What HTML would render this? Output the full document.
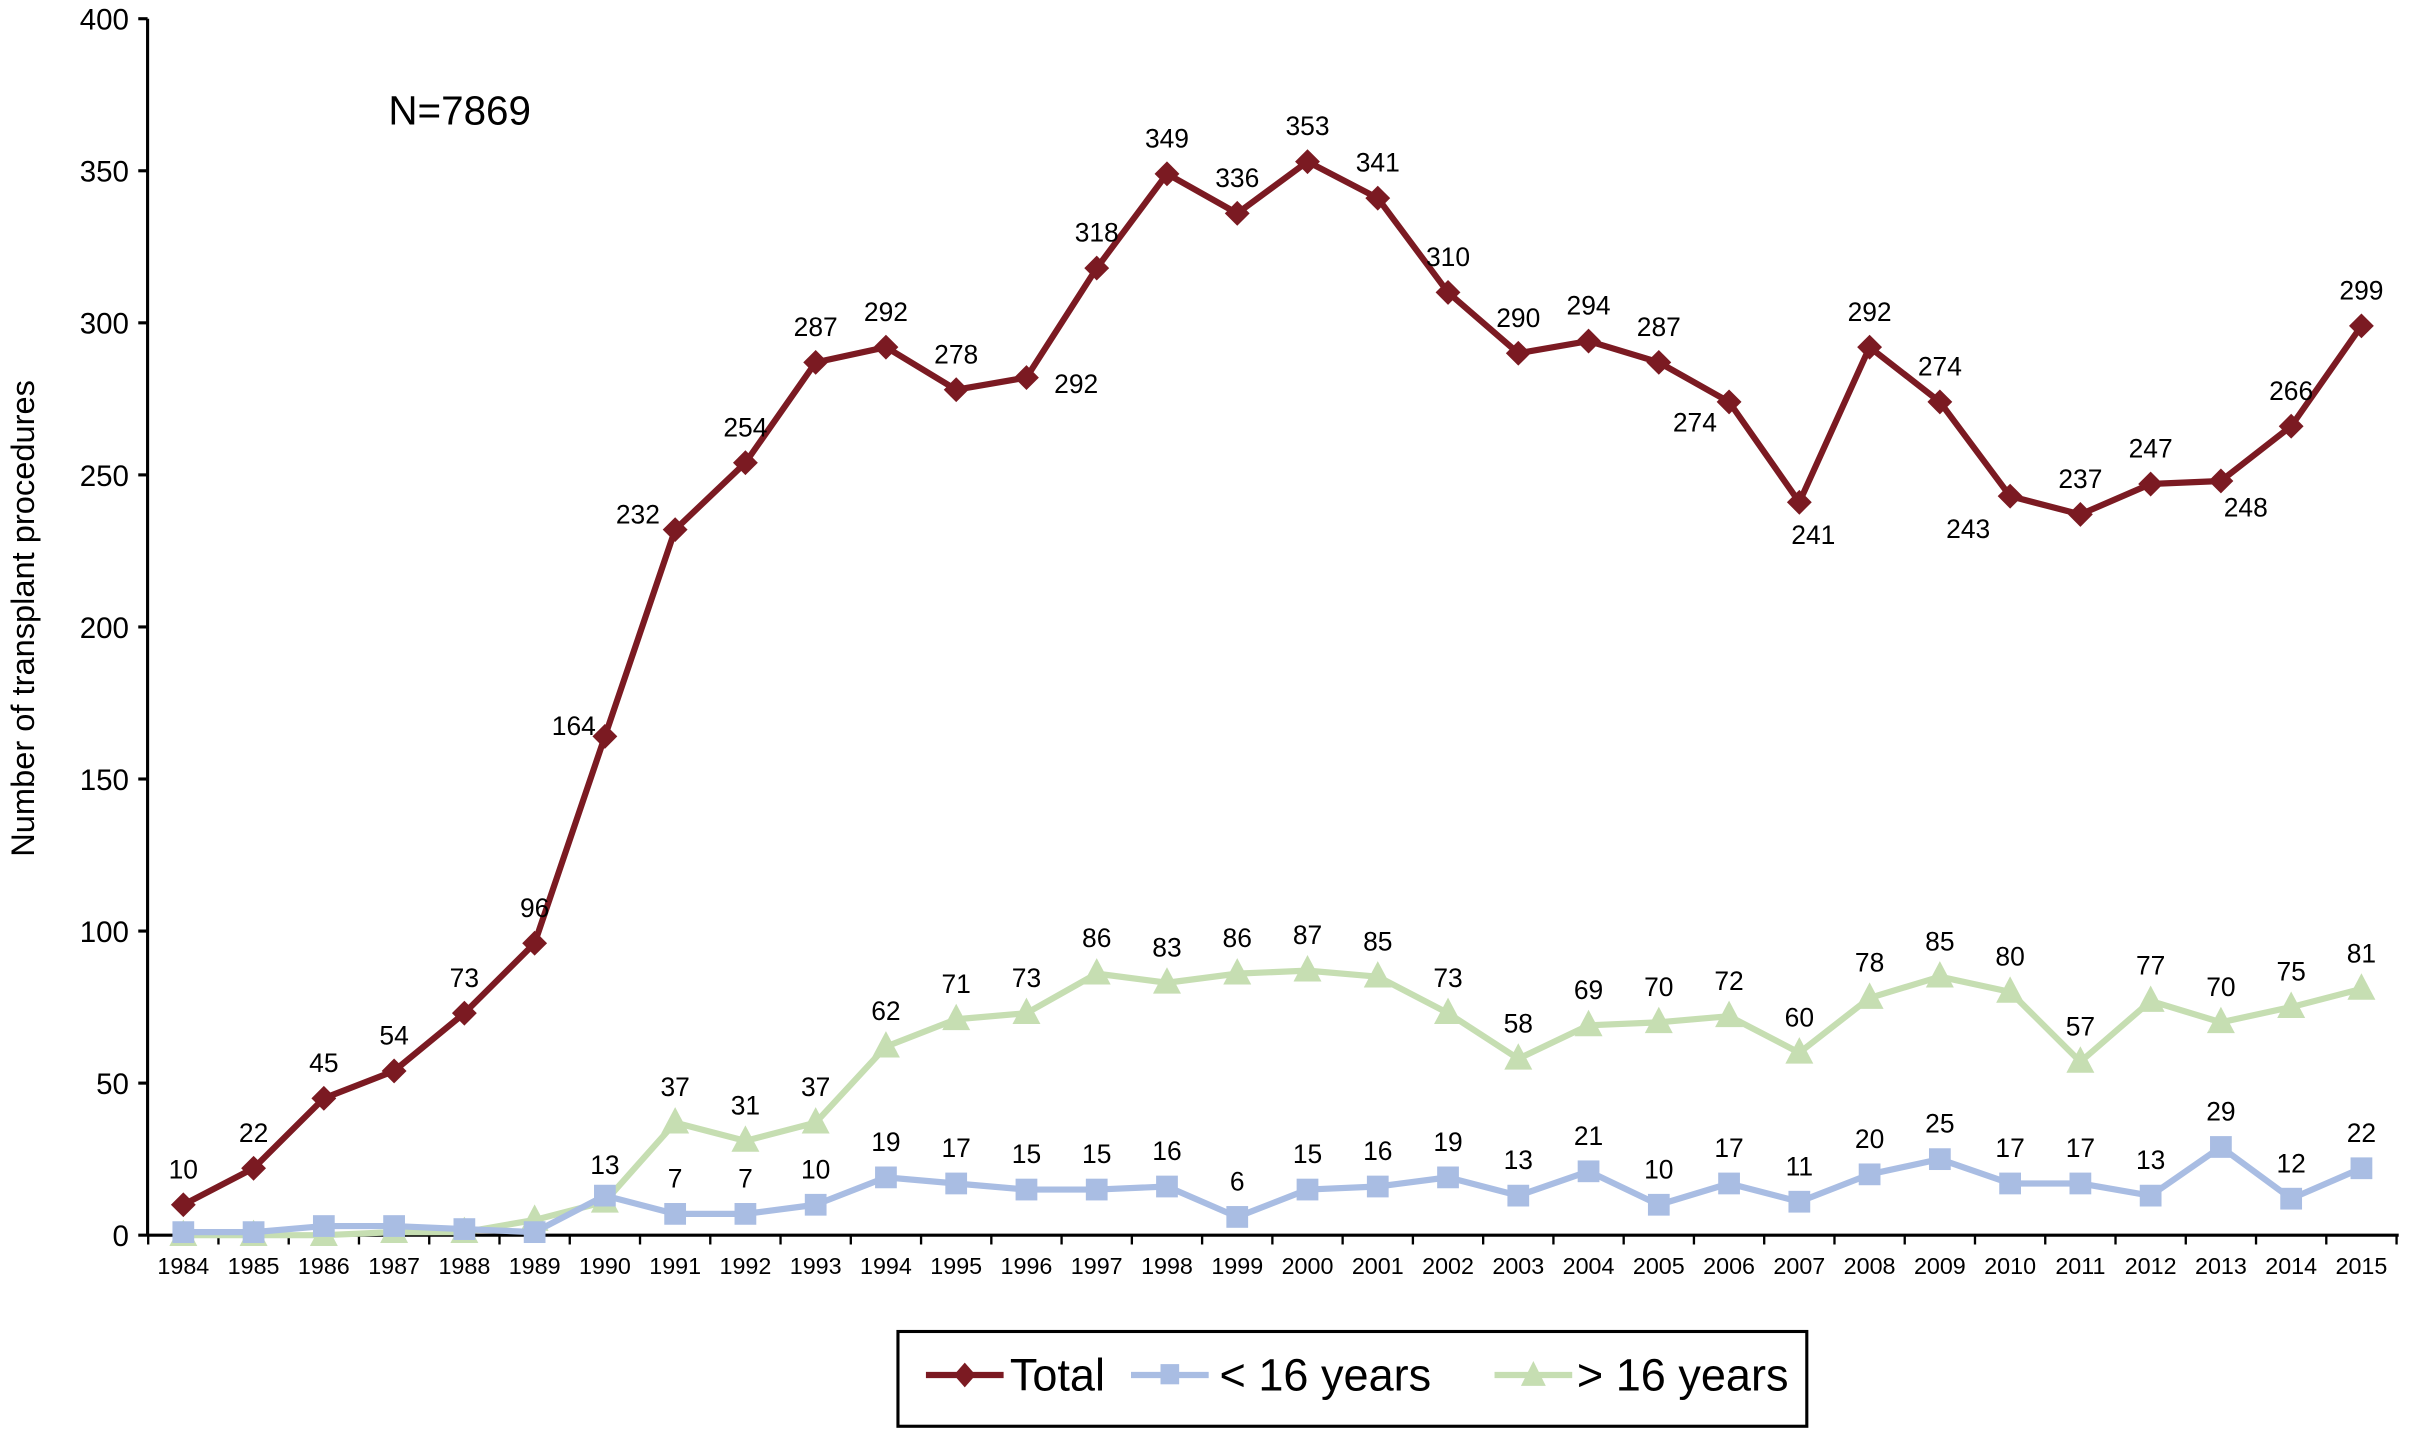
<!DOCTYPE html>
<html><head><meta charset="utf-8"><style>
html,body{margin:0;padding:0;background:#fff;}
svg{display:block;font-family:"Liberation Sans Narrow","Liberation Sans",sans-serif;}
</style></head><body>
<svg id="chart" width="2436" height="1431" viewBox="0 0 1568 921" xmlns="http://www.w3.org/2000/svg">
<g id="axes"></g>
<g id="series"></g>
<text x="250" y="80" font-size="26">N=7869</text>
<text transform="translate(22,398) rotate(-90)" text-anchor="middle" font-size="21">Number of transplant procedures</text>
<g>
<rect x="578" y="857" width="585" height="61" fill="#fff" stroke="#000" stroke-width="2"/>
<g>
<line x1="596" y1="885" x2="646" y2="885" stroke="#7b1a22" stroke-width="4"/>
<path d="M621 877 L628 885 L621 893 L614 885 Z" fill="#7b1a22"/>
<text x="650" y="895" font-size="29">Total</text></g>
<g>
<line x1="728" y1="885" x2="778" y2="885" stroke="#a9bde3" stroke-width="4"/>
<rect x="747" y="878" width="12" height="13" fill="#a9bde3"/>
<text x="785" y="895" font-size="29">&lt; 16 years</text></g>
<g>
<line x1="962" y1="885" x2="1012" y2="885" stroke="#c6deb2" stroke-width="4"/>
<path d="M987 876 L995 892 L979 892 Z" fill="#c6deb2"/>
<text x="1015" y="895" font-size="29">&gt; 16 years</text></g>
</g>
</svg>
<script>
const years = [1984,1985,1986,1987,1988,1989,1990,1991,1992,1993,1994,1995,1996,1997,1998,1999,2000,2001,2002,2003,2004,2005,2006,2007,2008,2009,2010,2011,2012,2013,2014,2015];
const totalValues = [10,22,45,54,73,96,164,232,254,287,292,278,282,318,349,336,353,341,310,290,294,287,274,241,292,274,243,237,247,248,266,299];
const totalLabels = ["10","22","45","54","73","96","164","232","254","287","292","278","292","318","349","336","353","341","310","290","294","287","274","241","292","274","243","237","247","248","266","299"];
const under16Values = [1,1,3,3,2,1,13,7,7,10,19,17,15,15,16,6,15,16,19,13,21,10,17,11,20,25,17,17,13,29,12,22];
const under16Labels = ["","","","","","","13","7","7","10","19","17","15","15","16","6","15","16","19","13","21","10","17","11","20","25","17","17","13","29","12","22"];
const over16Values = [0,0,0,1,1,5,11,37,31,37,62,71,73,86,83,86,87,85,73,58,69,70,72,60,78,85,80,57,77,70,75,81];
const over16Labels = ["","","","","","","","37","31","37","62","71","73","86","83","86","87","85","73","58","69","70","72","60","78","85","80","57","77","70","75","81"];
const yTicks = [0,50,100,150,200,250,300,350,400];

const NS = "http://www.w3.org/2000/svg";
const X0 = 118, X1 = 1520, AX = 95, Y0 = 795, Y400 = 12;
function xs(i){ return X0 + i*(X1-X0)/(years.length-1); }
function ys(v){ return Y0 - v*(Y0-Y400)/400; }
function mk(tag, attrs, parent){ const e=document.createElementNS(NS,tag); for(const k in attrs) e.setAttribute(k,attrs[k]); parent.appendChild(e); return e; }

const axes = document.getElementById('axes');
const series = document.getElementById('series');
let el = mk('line',{x1:AX,y1:Y400,x2:AX,y2:Y0,stroke:'#000','stroke-width':2},axes);


el = mk('line',{x1:AX,y1:Y0,x2:X1+24,y2:Y0,stroke:'#000','stroke-width':2},axes);


yTicks.forEach(t=>{
  const y=ys(t);
  mk('line',{x1:AX-6,y1:y,x2:AX,y2:y,stroke:'#000','stroke-width':2},axes);
  const tx=mk('text',{x:AX-12,y:y+7,'text-anchor':'end','font-size':19},axes);
  tx.textContent=t;
  
  
});
const step=(X1-X0)/(years.length-1);
for(let i=0;i<=years.length;i++){
  const x=X0-step/2+i*step;
  mk('line',{x1:x,y1:Y0,x2:x,y2:Y0+6,stroke:'#000','stroke-width':1.5},axes);
}
years.forEach((yr,i)=>{
  const tx=mk('text',{x:xs(i),y:Y0+25,'text-anchor':'middle','font-size':15},axes);
  tx.textContent=yr;
  
  
});

function drawSeries(vals, labels, color, shape, name, offs){
  const g=mk('g',{},series);
  
  
  const line=mk('polyline',{points:vals.map((v,i)=>xs(i)+','+ys(v)).join(' '),fill:'none',stroke:color,'stroke-width':4,'stroke-linejoin':'round'},g);
  
  
  vals.forEach((v,i)=>{
    const x=xs(i), y=ys(v); let m;
    if(shape==='diamond') m=mk('path',{d:`M${x} ${y-8} L${x+8} ${y} L${x} ${y+8} L${x-8} ${y} Z`,fill:color},g);
    else if(shape==='square') m=mk('rect',{x:x-7,y:y-7,width:14,height:14,fill:color},g);
    else m=mk('path',{d:`M${x} ${y-10} L${x+9} ${y+7} L${x-9} ${y+7} Z`,fill:color},g);
    
    
    if(labels[i]){
      const o=offs[i]||[0,-17];
      const t=mk('text',{x:x+o[0],y:y+o[1],'text-anchor':'middle','font-size':17},g);
      t.textContent=labels[i];
      
      
    }
  });
}
const totalOffs={6:[-20,-1],7:[-24,-4],12:[32,10],22:[-22,19],23:[9,27],26:[-27,27],29:[16,23]};
drawSeries(over16Values, over16Labels, '#c6deb2', 'tri', 'over16', {});
drawSeries(under16Values, under16Labels, '#a9bde3', 'square', 'under16', {6:[0,-14]});
drawSeries(totalValues, totalLabels, '#7b1a22', 'diamond', 'total', totalOffs);
</script>
</body></html>
